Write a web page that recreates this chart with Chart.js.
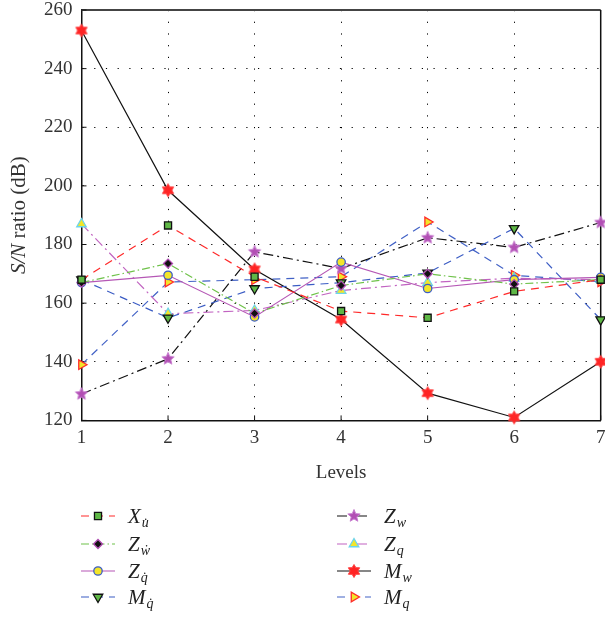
<!DOCTYPE html>
<html>
<head>
<meta charset="utf-8">
<script src="https://cdn.jsdelivr.net/npm/chart.js@4.4.0/dist/chart.umd.min.js"></script>
<style>
  html, body { margin: 0; padding: 0; background: #fff; overflow: hidden; }
  #wrap { width: 605px; height: 617px; overflow: hidden; }
</style>
</head>
<body>
<div id="wrap"><canvas id="myChart" width="608" height="617"></canvas></div>
<script>
// levels on the x axis
const levels = ['1', '2', '3', '4', '5', '6', '7'];
const yTicks = [120, 140, 160, 180, 200, 220, 240, 260];

// S/N ratio (dB) per factor
const Xu  = [168, 186.5, 169, 157.3, 155, 164, 168];
const Zwd = [167, 173.5, 156.5, 166, 170, 166.5, 168];
const Zqd = [167, 169.5, 155.3, 174, 165, 168, 168.8];
const Mqd = [168, 155, 165, 167, 170.3, 185.5, 154.4];
const Zw  = [129, 141, 177.5, 171.8, 182.3, 179, 187.5];
const Zq  = [187, 156.4, 157.5, 164.3, 167, 168.5, 168];
const Mw  = [253, 198.5, 171.5, 154.4, 129.3, 121, 140];
const Mq  = [139, 167.2, 168, 169, 187.7, 169.5, 167.3];

const serif = "'Liberation Serif', 'DejaVu Serif', serif";
Chart.defaults.font.family = serif;
Chart.defaults.font.size = 19;
Chart.defaults.color = '#333';

function makeStar(points, rOut, rIn, fill, stroke) {
  const s = Math.ceil(rOut * 2 + 3);
  const c = document.createElement('canvas');
  c.width = s; c.height = s;
  const g = c.getContext('2d');
  g.beginPath();
  for (let i = 0; i < points * 2; i++) {
    const r = i % 2 === 0 ? rOut : rIn;
    const a = -Math.PI / 2 + i * Math.PI / points;
    const px = s / 2 + r * Math.cos(a), py = s / 2 + r * Math.sin(a);
    if (i === 0) g.moveTo(px, py); else g.lineTo(px, py);
  }
  g.closePath();
  g.fillStyle = fill;
  g.fill();
  g.lineWidth = 1;
  g.strokeStyle = stroke;
  g.stroke();
  return c;
}

const purpleStar = makeStar(5, 6.5, 2.9, '#b24fb4', '#c77ccf');
const redStar = makeStar(6, 6.5, 3.8, '#ff2424', '#ff4040');

function series(label, main, sub, data, color, dash, pointStyle, bg, bd, radius, rotation) {
  return {
    label: label, main: main, sub: sub, data: data,
    borderColor: color, borderWidth: 1.2, borderDash: dash,
    pointStyle: pointStyle, pointBackgroundColor: bg, pointBorderColor: bd,
    pointBorderWidth: 1.3, pointRadius: radius, pointHoverRadius: radius,
    pointRotation: rotation || 0, tension: 0, fill: false
  };
}

const datasets = [
  series('Xu', 'X', 'u\u0307', Xu, '#ff2a2a', [8, 6], 'rect', '#5fb846', '#111', 5),
  series('Zw dot', 'Z', 'w\u0307', Zwd, '#6fc24a', [8, 3, 1.5, 3], 'rectRot', '#111', '#b24fb4', 4.5),
  series('Zq dot', 'Z', 'q\u0307', Zqd, '#b557b5', [], 'circle', '#f3e52a', '#3c5ec6', 4.2),
  series('Mq dot', 'M', 'q\u0307', Mqd, '#3b5cc4', [8, 6], 'triangle', '#5fb846', '#111', 5.5, 180),
  series('Zw', 'Z', 'w', Zw, '#111', [10, 4, 2, 4], purpleStar, '#b24fb4', '#b24fb4', 6),
  series('Zq', 'Z', 'q', Zq, '#c163c1', [10, 4, 2, 4], 'triangle', '#f3e52a', '#6dd4ea', 5.5),
  series('Mw', 'M', 'w', Mw, '#111', [], redStar, '#ff2424', '#ff2424', 6),
  series('Mq', 'M', 'q', Mq, '#4262c6', [8, 6], 'triangle', '#f3e52a', '#ff2a2a', 5.5, 90)
];

// frame, inner ticks, y title and legend
const extras = {
  id: 'extras',
  beforeDatasetsDraw(chart) {
    const { ctx, chartArea: a, scales } = chart;
    ctx.save();
    ctx.strokeStyle = '#444';
    ctx.lineWidth = 2;
    ctx.beginPath();
    ctx.moveTo(a.left, a.top);
    ctx.lineTo(a.right, a.top);
    ctx.stroke();
    ctx.strokeStyle = '#111';
    ctx.lineWidth = 1.5;
    ctx.beginPath();
    ctx.moveTo(a.right, a.top);
    ctx.lineTo(a.right, a.bottom);
    ctx.stroke();
    ctx.lineWidth = 1;
    ctx.beginPath();
    yTicks.forEach(v => {
      const y = scales.y.getPixelForValue(v);
      ctx.moveTo(a.left, y); ctx.lineTo(a.left + 5, y);
    });
    levels.forEach((l, i) => {
      const x = scales.x.getPixelForValue(i);
      ctx.moveTo(x, a.bottom); ctx.lineTo(x, a.bottom - 5);
    });
    ctx.stroke();
    ctx.restore();
  },
  afterDraw(chart) {
    const { ctx, chartArea: a } = chart;
    ctx.save();
    // y axis title with italic S/N
    ctx.translate(19, (a.top + a.bottom) / 2);
    ctx.rotate(-Math.PI / 2);
    ctx.fillStyle = '#333';
    ctx.textBaseline = 'middle';
    ctx.font = 'italic 21px ' + serif;
    const w1 = ctx.measureText('S/N').width;
    ctx.font = '21px ' + serif;
    const w2 = ctx.measureText(' ratio (dB)').width;
    let x0 = -(w1 + w2) / 2;
    ctx.font = 'italic 21px ' + serif;
    ctx.fillText('S/N', x0, 0);
    ctx.font = '21px ' + serif;
    ctx.fillText(' ratio (dB)', x0 + w1, 0);
    ctx.restore();

    // legend, two columns
    const rows = [516, 544, 571, 597];
    const cols = [81, 337];
    chart.data.datasets.forEach((ds, i) => {
      const cx = cols[Math.floor(i / 4)];
      const cy = rows[i % 4];
      ctx.save();
      ctx.strokeStyle = ds.borderColor;
      ctx.lineWidth = ds.borderWidth;
      ctx.setLineDash(ds.borderDash);
      ctx.beginPath();
      ctx.moveTo(cx, cy);
      ctx.lineTo(cx + 34, cy);
      ctx.stroke();
      ctx.setLineDash([]);
      ctx.fillStyle = ds.pointBackgroundColor;
      ctx.strokeStyle = ds.pointBorderColor;
      ctx.lineWidth = ds.pointBorderWidth;
      Chart.helpers.drawPoint(ctx, {
        pointStyle: ds.pointStyle, rotation: ds.pointRotation,
        radius: ds.pointRadius, borderWidth: ds.pointBorderWidth
      }, cx + 17, cy);
      ctx.fillStyle = '#222';
      ctx.textBaseline = 'alphabetic';
      ctx.font = 'italic 21px ' + serif;
      const tx = cx + 47;
      ctx.fillText(ds.main, tx, cy + 7);
      const mw = ctx.measureText(ds.main).width;
      ctx.font = 'italic 14px ' + serif;
      ctx.fillText(ds.sub, tx + mw + 1, cy + 11);
      ctx.restore();
    });
  }
};

new Chart(document.getElementById('myChart'), {
  type: 'line',
  data: { labels: levels, datasets: datasets },
  options: {
    responsive: false,
    animation: false,
    clip: false,
    layout: { padding: { left: 35, right: 1, top: 10, bottom: 133 } },
    plugins: { legend: { display: false }, tooltip: { enabled: false } },
    scales: {
      x: {
        offset: false,
        afterFit: (scale) => { scale.paddingLeft = 0; scale.paddingRight = 0; },
        grid: { color: '#000', lineWidth: 1, drawTicks: false },
        border: { color: '#111', width: 1.5, dash: [1.2, 10.5] },
        ticks: { padding: 6, color: '#333' },
        title: { display: true, text: 'Levels', color: '#333', padding: { top: 6, bottom: 0 } }
      },
      y: {
        min: 120, max: 260,
        afterFit: (scale) => { scale.paddingTop = 0; scale.paddingBottom = 0; },
        afterBuildTicks: (scale) => { scale.ticks = yTicks.map(v => ({ value: v })); },
        grid: { color: '#000', lineWidth: 1, drawTicks: false },
        border: { color: '#111', width: 1.5, dash: [1.2, 10.5] },
        ticks: { padding: 9, color: '#333' }
      }
    }
  },
  plugins: [extras]
});
</script>
</body>
</html>
